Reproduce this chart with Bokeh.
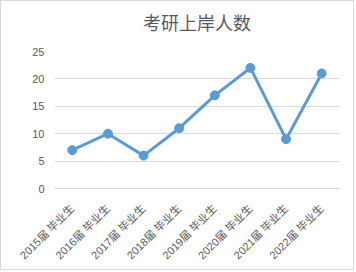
import math
from bokeh.plotting import figure
from bokeh.models import Range1d, Title
from bokeh.embed import file_html
from bokeh.resources import INLINE

categories = ["2015届 毕业生", "2016届 毕业生", "2017届 毕业生", "2018届 毕业生",
              "2019届 毕业生", "2020届 毕业生", "2021届 毕业生", "2022届 毕业生"]
counts = [7, 10, 6, 11, 17, 22, 9, 21]
y_ticks = [0, 5, 10, 15, 20, 25]

FONT = "'Liberation Sans', 'Noto Sans CJK SC', sans-serif"
GRAY = "#595959"

p = figure(x_range=categories, y_range=Range1d(0, 25), width=354, height=270,
           output_backend="svg", toolbar_location=None,
           min_border_left=53, min_border_right=16, min_border_top=50, min_border_bottom=83)
p.styles = {"border": "1px solid #D9D9D9"}
p.outline_line_color = None
p.background_fill_color = "white"
p.border_fill_color = "white"

p.title.text = "考研上岸人数"
p.title.align = "center"
p.title.text_font = "'Noto Sans CJK SC', sans-serif"
p.title.text_font_style = "normal"
p.title.text_font_size = "18px"
p.title.text_color = GRAY
p.title.standoff = 10

spacer = Title(text=" ", text_font_size="9px", standoff=0)
p.add_layout(spacer, "above")

p.line(categories, counts, line_color="#5B9BD5", line_width=3)
p.scatter(categories, counts, size=9, fill_color="#5B9BD5", line_color="#5B9BD5")

p.yaxis.ticker = y_ticks
p.yaxis.axis_line_color = None
p.yaxis.major_tick_line_color = None
p.yaxis.minor_tick_line_color = None
p.yaxis.major_label_text_font = FONT
p.yaxis.major_label_text_font_size = "11px"
p.yaxis.major_label_text_color = GRAY
p.yaxis.major_label_standoff = 4

p.xaxis.axis_line_color = "#D9D9D9"
p.xaxis.major_tick_line_color = None
p.xaxis.minor_tick_line_color = None
p.xaxis.major_label_orientation = math.pi / 4
p.xaxis.major_label_text_font = FONT
p.xaxis.major_label_text_font_size = "11px"
p.xaxis.major_label_text_color = GRAY
p.xaxis.major_label_standoff = 12

p.xgrid.grid_line_color = None
p.ygrid.grid_line_color = "#D9D9D9"

open("out.html", "w").write(file_html(p, INLINE))
